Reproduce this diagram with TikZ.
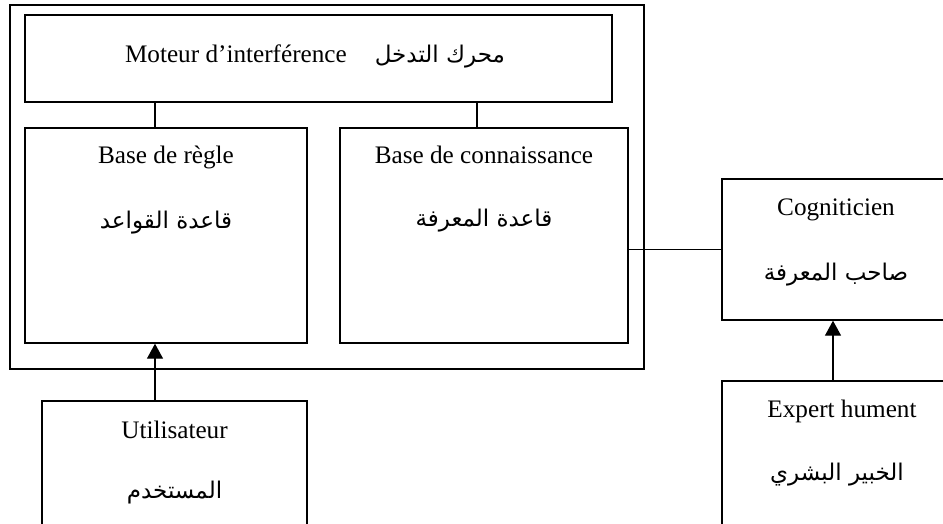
\documentclass[tikz,border=0pt]{standalone}
\usepackage{fontspec}
\setmainfont{Liberation Serif}
\newfontfamily\arabicfont[Script=Arabic]{DejaVu Sans}
\TeXXeTstate=1
\usetikzlibrary{fit,arrows.meta}
\newcommand{\ar}[1]{{\arabicfont\fontsize{11.5}{13}\selectfont\beginR #1\endR}}
\begin{document}
\begin{tikzpicture}[x=0.5pt,y=-0.5pt,line width=0.7pt,
  box/.style={draw,inner sep=0pt},
  txt/.style={anchor=base,inner sep=0pt,font=\fontsize{12.6}{14}\selectfont},
  arr/.style={-{Triangle[length=7.5pt,width=8pt]}}]
\useasboundingbox (0,0) rectangle (943,524);
\clip (0,0) rectangle (943,524);
% frame of the system
\node[box,fit={(10,5) (644,369)}] (systeme) {};
\node[box,fit={(25,15) (612,102)}] (moteur) {};
\node[box,fit={(25,128) (307,343)}] (regle) {};
\node[box,fit={(340,128) (628,343)}] (connaissance) {};
% outside
\node[box,fit={(42,401) (307,545)}] (utilisateur) {};
\node[box,fit={(722,179) (952,320)}] (cogniticien) {};
\node[box,fit={(722,381) (952,545)}] (expert) {};
% texts
\node[txt] (tmoteur) at (315,63) {Moteur d’interférence\hspace{14pt}\ar{محرك التدخل}};
\node[txt] (tregle) at (166,163) {Base de règle};
\node[txt] (aregle) at (166,228) {\ar{قاعدة القواعد}};
\node[txt] (tconn) at (484,163) {Base de connaissance};
\node[txt] (aconn) at (484,227) {\ar{قاعدة المعرفة}};
\node[txt] (tutil) at (174.5,438) {Utilisateur};
\node[txt] (autil) at (174.5,498) {\ar{المستخدم}};
\node[txt] (tcogn) at (836,215) {Cogniticien};
\node[txt] (acogn) at (836,280) {\ar{صاحب المعرفة}};
\node[txt] (texpert) at (842,417) {Expert hument};
\node[txt] (aexpert) at (837,480) {\ar{الخبير البشري}};
% links
\draw (155,0 |- moteur.south) -- (155,0 |- regle.north);
\draw (477,0 |- moteur.south) -- (477,0 |- connaissance.north);
\draw (cogniticien.west -| connaissance.east) -- (cogniticien.west);
\draw[arr] (155,0 |- utilisateur.north) -- (155,0 |- regle.south);
\draw[arr] (833,0 |- expert.north) -- (833,0 |- cogniticien.south);
\end{tikzpicture}
\end{document}
